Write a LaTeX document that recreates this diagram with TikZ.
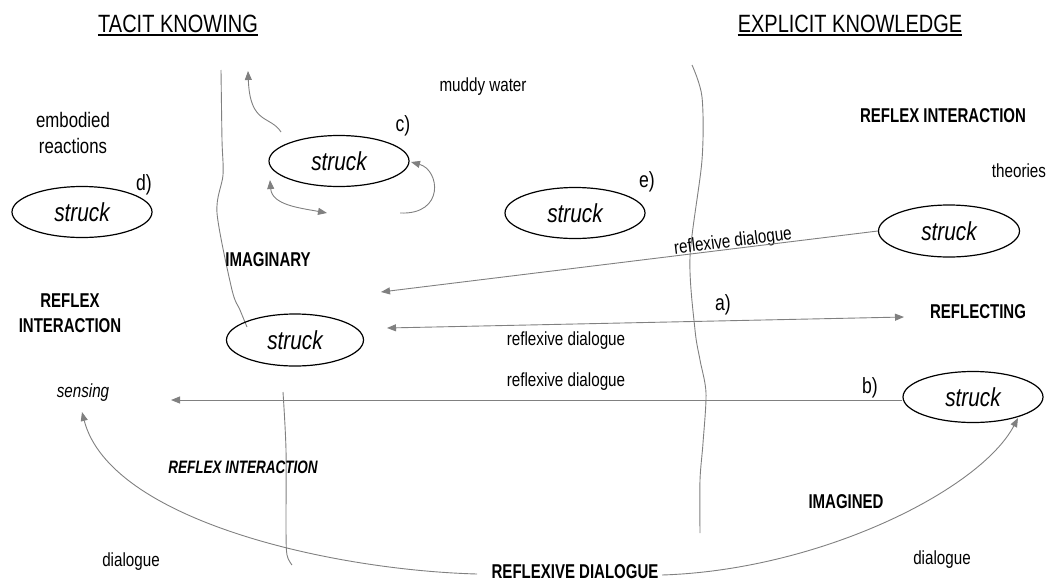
\documentclass[tikz,border=0pt]{standalone}
\usepackage{fontspec}
\setmainfont{Liberation Sans}
\newfontfamily\cnd[FakeStretch=0.8]{Liberation Sans}
\newfontfamily\cndb[FakeStretch=0.75]{Liberation Sans}
\usetikzlibrary{arrows.meta,shapes.geometric}
\newcommand\fsz[1]{\fontsize{#1}{#1}\selectfont}
\definecolor{ln}{HTML}{808080}
\tikzset{
  head/.style={inner sep=0, font=\cnd\fsz{25}},
  reg/.style={inner sep=0, font=\cnd\fsz{19}},
  lett/.style={inner sep=0, font=\cnd\fsz{22}},
  capl/.style={inner sep=0, font=\cndb\bfseries\fsz{20}},
  struckbox/.style={ellipse, draw=black, line width=1.2pt, minimum width=140pt, minimum height=51pt, inner sep=0, font=\cnd\itshape\fsz{26}},
  conn/.style={draw=ln, line width=0.9pt},
  tipend/.style={-{Triangle[length=9pt,width=7pt]}},
  tipboth/.style={{Triangle[length=9pt,width=7pt]}-{Triangle[length=9pt,width=7pt]}},
  wall/.style={draw=ln, line width=0.9pt}
}
\begin{document}
\begin{tikzpicture}[x=1pt,y=-1pt]
\useasboundingbox (0,0) rectangle (1051,581);
% headings
\node[head] (tk) at (178,24) {TACIT KNOWING};
\node[head] (ek) at (850,24) {EXPLICIT KNOWLEDGE};
\draw[line width=1.5pt] ([yshift=-2pt]tk.south west) -- ([yshift=-2pt]tk.south east);
\draw[line width=1.5pt] ([yshift=-2pt]ek.south west) -- ([yshift=-2pt]ek.south east);

% walls
\draw[wall] plot[smooth] coordinates {(221,70) (222,140) (223,175) (217,213) (232,290) (240,310) (247,327)};
\draw[wall] plot[smooth] coordinates {(283,392) (286,450) (286,530) (287,555) (292,565)};
\draw[wall] plot[smooth] coordinates {(692,65) (702,97) (702,160) (690,257) (695,330) (700,360) (706,393) (703,443) (700,480) (700,533)};

% ellipses
\node[struckbox] (sc) at (339,161) {struck};
\node[struckbox] (sd) at (82,212) {struck};
\node[struckbox] (se) at (575,213) {struck};
\node[struckbox, minimum width=141pt, minimum height=52pt] (st) at (949,231) {struck};
\node[struckbox, minimum width=137pt, minimum height=52pt] (sm) at (295,340) {struck};
\node[struckbox] (sb) at (973,397) {struck};

% letters
\node[lett] (lc) at (403,126) {c)};
\node[lett] (ld) at (144,185) {d)};
\node[lett] (le) at (647,182) {e)};
\node[lett] (la) at (723,305) {a)};
\node[lett] (lb) at (870,388) {b)};

% texts
\node[reg] (mw) at (483,87) {muddy water};
\node[reg, font=\cnd\fsz{21}] (emb) at (73,120) {embodied};
\node[reg, font=\cnd\fsz{21}] (rea) at (73,146) {reactions};
\node[capl] (ri1) at (943,116) {REFLEX INTERACTION};
\node[reg] (th) at (1019,171) {theories};
\node[capl] (img) at (268,260) {IMAGINARY};
\node[capl] (rx) at (70,301) {REFLEX};
\node[capl] (ia) at (70,326) {INTERACTION};
\node[capl] (rfl) at (978,312) {REFLECTING};
\node[reg] (rd1) at (566,341) {reflexive dialogue};
\node[reg] (rd2) at (566,382) {reflexive dialogue};
\node[reg, font=\cnd\itshape\fsz{19}] (sens) at (83,393) {sensing};
\node[capl, font=\cndb\bfseries\itshape\fsz{18}] (ri2) at (243,467) {REFLEX INTERACTION};
\node[capl] (imd) at (846,502) {IMAGINED};
\node[reg] (dl) at (131,562) {dialogue};
\node[capl] (rdg) at (575,572) {REFLEXIVE DIALOGUE};
\node[reg] (dr) at (942,560) {dialogue};
\node[reg, rotate=7] (rd0) at (733,242) {reflexive dialogue};

% free ends
\coordinate (t1) at (381,292);
\coordinate (a1) at (387,328);
\coordinate (a2) at (904,317);
\coordinate (t3) at (171,400);
\coordinate (c1s) at (281,132);
\coordinate (c1e) at (248,71);
\coordinate (c2s) at (270,180);
\coordinate (c2e) at (327,213);
\coordinate (c3s) at (400,213);
\coordinate (c3e) at (411,162);
\coordinate (b1s) at (477,574);
\coordinate (b1e) at (82,412);
\coordinate (b2s) at (662,575);
\coordinate (b2e) at (1018,418);

% connectors
\draw[conn, tipend] (st.west) -- (t1);
\draw[conn, tipboth] (a1) -- (a2);
\draw[conn, tipend] ([yshift=-3pt]sb.west) -- (t3);
\draw[conn, tipend] (b1s) .. controls (330,570) and (110,520) .. (b1e);
\draw[conn, tipend] (b2s) .. controls (820,570) and (980,490) .. (b2e);
\draw[conn, tipend] (c1s) .. controls (270,115) and (250,125) .. (c1e);
\draw[conn, tipboth] (c2s) .. controls (272,205) and (300,208) .. (c2e);
\draw[conn, tipend] (c3s) .. controls (445,215) and (440,170) .. (c3e);
\end{tikzpicture}
\end{document}
